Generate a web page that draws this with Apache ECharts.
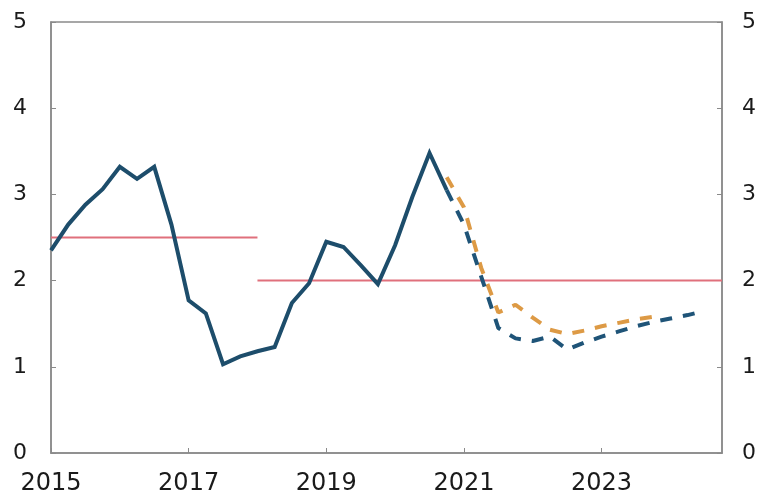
<!DOCTYPE html>
<html>
<head>
<meta charset="utf-8">
<script src="https://cdn.jsdelivr.net/npm/echarts@6/dist/echarts.min.js"></script>
<style>
  html, body { margin: 0; padding: 0; background: #fff; }
  #chart { width: 759px; height: 500px; }
</style>
</head>
<body>
<div id="chart"></div>
<script>
// quarters 2015Q1 .. 2024Q4
const quarters = [
  '2015Q1', '2015Q2', '2015Q3', '2015Q4', '2016Q1', '2016Q2', '2016Q3', '2016Q4',
  '2017Q1', '2017Q2', '2017Q3', '2017Q4', '2018Q1', '2018Q2', '2018Q3', '2018Q4',
  '2019Q1', '2019Q2', '2019Q3', '2019Q4', '2020Q1', '2020Q2', '2020Q3', '2020Q4',
  '2021Q1', '2021Q2', '2021Q3', '2021Q4', '2022Q1', '2022Q2', '2022Q3', '2022Q4',
  '2023Q1', '2023Q2', '2023Q3', '2023Q4', '2024Q1', '2024Q2', '2024Q3', '2024Q4'
]

// outcome (solid blue)
const actual = [
  2.35, 2.65, 2.88, 3.06, 3.32, 3.18, 3.32, 2.65,
  1.77, 1.62, 1.03, 1.12, 1.18, 1.23, 1.74, 1.97,
  2.45, 2.39, 2.18, 1.96, 2.41, 2.97, 3.48, 3.05
]
// new projection (dashed blue), from 2020Q4
const projNew = [
  3.05, 2.65, 2.05, 1.45, 1.33, 1.30, 1.35, 1.20,
  1.28, 1.35, 1.41, 1.47, 1.52, 1.56, 1.60, 1.65
]
// previous projection (dashed orange), from 2020Q4
const projOld = [
  3.20, 2.85, 2.15, 1.63, 1.72, 1.57, 1.43, 1.38,
  1.42, 1.47, 1.51, 1.55, 1.58
]
// target lines
const target1 = 2.5 // 2015Q1 - 2018Q1
const target2 = 2.0 // 2018Q1 - 2024Q4

const startProj = 23
const targetSwitch = 12

function fill (arr, start) {
  const out = quarters.map(() => null)
  arr.forEach((v, i) => { out[start + i] = v })
  return out
}

const t1 = quarters.map((q, i) => (i <= targetSwitch ? target1 : null))
const t2 = quarters.map((q, i) => (i >= targetSwitch ? target2 : null))

const myChart = echarts.init(document.getElementById('chart'), null, { renderer: 'canvas' })

const axisGray = '#8a8a8a'
const labelColor = '#1a1a1a'
const yearTick = (idx) => idx % 8 === 0

const option = {
  animation: false,
  grid: {
    left: 51,
    right: 36,
    top: 22,
    bottom: 47,
    show: true,
    borderColor: axisGray,
    borderWidth: 1.5
  },
  xAxis: {
    type: 'category',
    data: quarters,
    boundaryGap: false,
    axisLine: { lineStyle: { color: axisGray, width: 1.5 } },
    axisTick: { inside: true, length: 5, interval: yearTick, lineStyle: { color: axisGray } },
    axisLabel: {
      interval: yearTick,
      formatter: (v) => v.slice(0, 4),
      color: labelColor,
      fontFamily: 'DejaVu Sans',
      fontSize: 24,
      margin: 19
    },
    splitLine: { show: false }
  },
  yAxis: [
    {
      type: 'value',
      min: 0,
      max: 5,
      interval: 1,
      position: 'left',
      axisLine: { show: true, lineStyle: { color: axisGray, width: 1.5 } },
      axisTick: { show: true, inside: true, length: 5, lineStyle: { color: axisGray } },
      axisLabel: { color: labelColor, fontFamily: 'DejaVu Sans', fontSize: 22, margin: 24 },
      splitLine: { show: false }
    },
    {
      type: 'value',
      min: 0,
      max: 5,
      interval: 1,
      position: 'right',
      axisLine: { show: true, lineStyle: { color: axisGray, width: 1.5 } },
      axisTick: { show: true, inside: true, length: 5, lineStyle: { color: axisGray } },
      axisLabel: { color: labelColor, fontFamily: 'DejaVu Sans', fontSize: 22, margin: 20 },
      splitLine: { show: false }
    }
  ],
  series: [
    {
      name: 'target1',
      type: 'line',
      data: t1,
      symbol: 'none',
      lineStyle: { color: '#e0707c', width: 2 },
      z: 1
    },
    {
      name: 'target2',
      type: 'line',
      data: t2,
      symbol: 'none',
      lineStyle: { color: '#e0707c', width: 2 },
      z: 1
    },
    {
      name: 'previous',
      type: 'line',
      data: fill(projOld, startProj),
      symbol: 'none',
      lineStyle: { color: '#dd9a45', width: 4, type: [12, 11] },
      z: 2
    },
    {
      name: 'projection',
      type: 'line',
      data: fill(projNew, startProj),
      symbol: 'none',
      lineStyle: { color: '#1f5478', width: 4, type: [12, 11] },
      z: 3
    },
    {
      name: 'actual',
      type: 'line',
      data: actual,
      symbol: 'none',
      lineStyle: { color: '#1d4d6b', width: 4, join: 'miter' },
      z: 4
    }
  ]
}

myChart.setOption(option)

window.addEventListener('resize', () => {
  myChart.resize()
})
</script>
</body>
</html>
